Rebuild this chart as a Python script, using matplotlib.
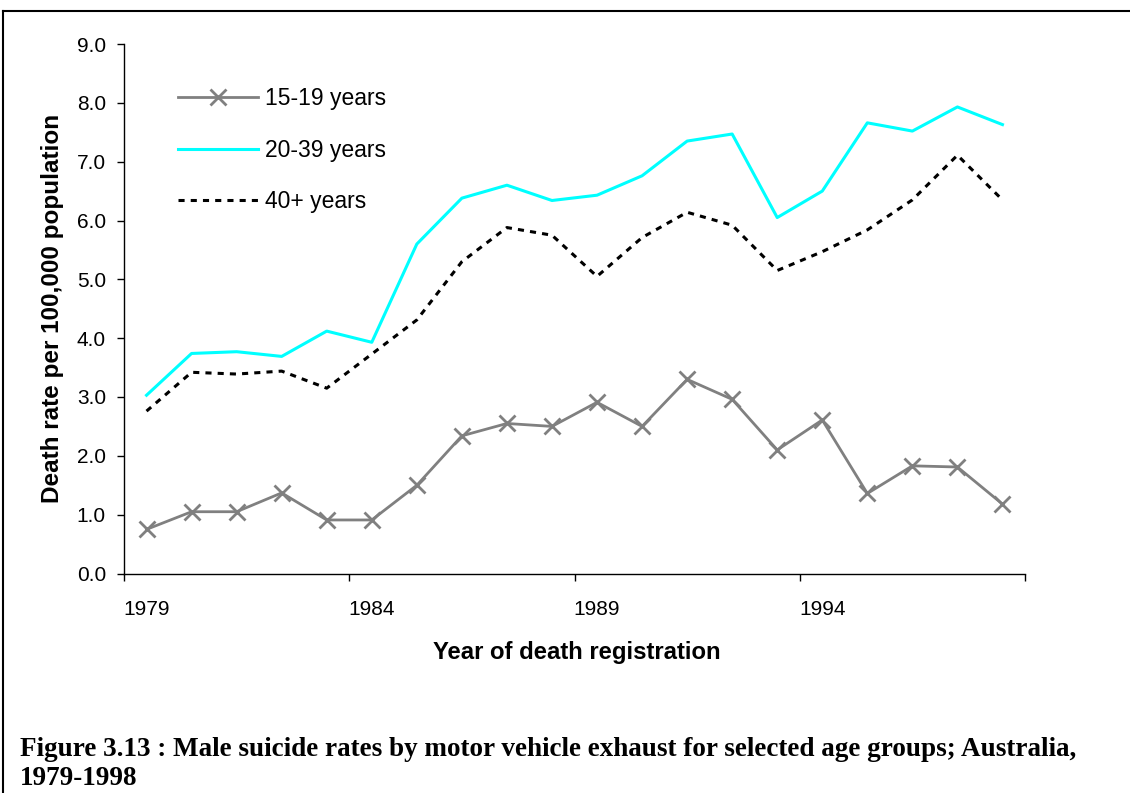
import numpy as np
import matplotlib
matplotlib.use('Agg')
import matplotlib.pyplot as plt
from matplotlib.lines import Line2D

# Data
years = list(range(1979, 1999))
rate_15_19 = [0.75, 1.05, 1.05, 1.37, 0.91, 0.91, 1.50, 2.34, 2.55, 2.50,
              2.91, 2.50, 3.30, 2.96, 2.10, 2.61, 1.36, 1.83, 1.81, 1.18]
rate_20_39 = [3.03, 3.74, 3.77, 3.69, 4.12, 3.93, 5.60, 6.38, 6.60, 6.34,
              6.43, 6.76, 7.35, 7.47, 6.05, 6.50, 7.66, 7.52, 7.93, 7.63]
rate_40_plus = [2.76, 3.42, 3.39, 3.44, 3.15, 3.73, 4.31, 5.30, 5.88, 5.75,
                5.05, 5.71, 6.14, 5.92, 5.15, 5.47, 5.84, 6.35, 7.11, 6.35]
series_labels = ['15-19 years', '20-39 years', '40+ years']
year_labels = ['1979', '1984', '1989', '1994']

plt.rcParams['font.family'] = ['Liberation Sans', 'DejaVu Sans']

W, H = 1130, 793
fig = plt.figure(figsize=(W / 100, H / 100), dpi=100)
ax = fig.add_axes([124 / W, 1 - 573.5 / H, (1025 - 124) / W, (573.5 - 44) / H])

x = np.arange(len(years))
ax.plot(x, rate_15_19, color='#808080', lw=2.0, marker='x', ms=11, mew=2,
        label=series_labels[0])
ax.plot(x, rate_20_39, color='#00FFFF', lw=2.2, label=series_labels[1])
ax.plot(x, rate_40_plus, color='black', lw=2.2, linestyle=(0, (2, 2)),
        label=series_labels[2])

ax.set_xlim(-0.5, len(years) - 0.5)
ax.set_ylim(0, 9)
ax.set_yticks(np.arange(0, 10, 1))
ax.set_yticklabels(['%.1f' % v for v in np.arange(0, 10, 1)], fontsize=15)
ax.tick_params(axis='y', length=5, width=1, pad=8)

# category axis: tick marks between categories, labels on categories
ax.set_xticks(np.arange(-0.5, len(years), 5))
ax.set_xticklabels([])
ax.tick_params(axis='x', which='major', length=5, width=1)
label_pos = [years.index(int(y)) for y in year_labels]
ax.set_xticks(label_pos, minor=True)
ax.set_xticklabels(year_labels, minor=True, fontsize=15)
ax.tick_params(axis='x', which='minor', length=0, pad=19)

for s in ['top', 'right']:
    ax.spines[s].set_visible(False)
for s in ['left', 'bottom']:
    ax.spines[s].set_color('black')
    ax.spines[s].set_linewidth(1)

ax.set_ylabel('Death rate per 100,000 population', fontsize=17.5,
              fontweight='bold', labelpad=9)
fig.text(577 / W, 1 - 653 / H, 'Year of death registration', fontsize=17.2,
         fontweight='bold', ha='center', va='center')

ax.legend(loc='upper left', bbox_to_anchor=((178 - 124) / 901, 0.918),
          frameon=False, fontsize=16.5, handlelength=3.5, handletextpad=0.3,
          labelspacing=1.24, borderpad=0, borderaxespad=0)

fig.text(20 / W, 1 - 737 / H,
         'Figure 3.13 : Male suicide rates by motor vehicle exhaust for selected age groups; Australia,\n1979-1998',
         fontsize=19.5, fontweight='bold', family=['Liberation Serif', 'DejaVu Serif'],
         ha='left', va='top', linespacing=1.2)

# frame around the figure
fig.add_artist(Line2D([3 / W, 3 / W], [0, 1 - 11 / H], color='black', lw=1.5,
                      transform=fig.transFigure))
fig.add_artist(Line2D([3 / W, 1], [1 - 11 / H, 1 - 11 / H], color='black', lw=1.5,
                      transform=fig.transFigure))

fig.savefig('out.png', dpi=100)
